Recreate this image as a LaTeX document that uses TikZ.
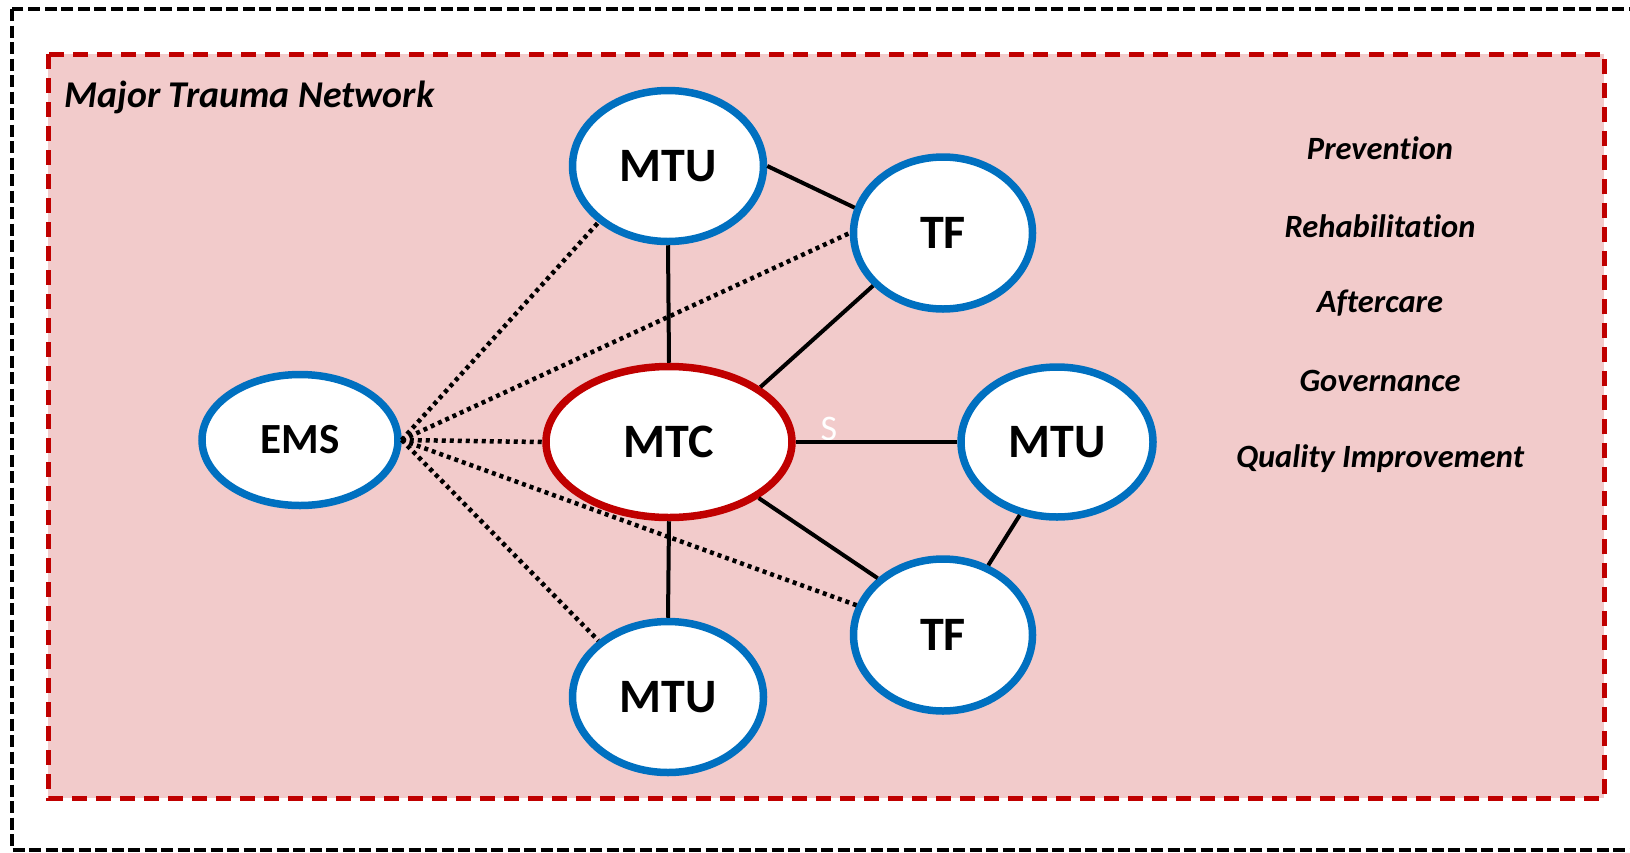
\documentclass[tikz,border=0pt]{standalone}
\usepackage{fontspec}
\setmainfont{Carlito}[Ligatures=NoCommon]
\usetikzlibrary{shapes.geometric}

\definecolor{netred}{RGB}{192,0,0}
\definecolor{netblue}{RGB}{0,112,192}
\definecolor{netpink}{RGB}{242,203,203}

\tikzset{
  unit/.style={ellipse, draw=netblue, fill=white, line width=7.5pt, inner sep=0pt,
               font=\fontsize{48}{56}\selectfont\bfseries},
  centre/.style={unit, draw=netred},
  link/.style={line width=4pt, black},
  feed/.style={line width=4.5pt, black, dash pattern=on 4pt off 4pt},
  topic/.style={font=\fontsize{32.5}{38}\selectfont\bfseries\itshape, anchor=center},
}

\begin{document}
\begin{tikzpicture}[x=1pt, y=-1pt]
  \useasboundingbox (0,0) rectangle (1630,852);
  \clip (0,0) rectangle (1630,852);
  \fill[white] (0,0) rectangle (1630,852);

  % outer frame
  \draw[black, line width=4pt, dash pattern=on 12pt off 4.5pt] (12,9) rectangle (1660,850);

  % network area
  \draw[netred, fill=netpink, line width=5pt, dash pattern=on 15pt off 9pt] (48,54) rectangle (1604,798);
  \node[anchor=base west, font=\fontsize{37.8}{44}\selectfont\bfseries\itshape] (title) at (61,107) {Major Trauma Network};

  % units
  \node[unit, minimum width=191pt, minimum height=151pt] (mtuT) at (668,166) {MTU};
  \node[unit, minimum width=179pt, minimum height=152pt] (tfT)  at (943,233) {TF};
  \node[unit, minimum width=196pt, minimum height=131pt, font=\fontsize{43}{50}\selectfont\bfseries] (ems) at (300,440) {EMS};
  \node[centre, minimum width=246pt, minimum height=151pt] (mtc) at (669,442) {MTC};
  \node[unit, minimum width=192pt, minimum height=150pt] (mtuR) at (1057,442) {MTU};
  \node[unit, minimum width=179pt, minimum height=152pt] (tfB)  at (943,635) {TF};
  \node[unit, minimum width=191pt, minimum height=151pt] (mtuB) at (668,697) {MTU};

  \node[white, font=\fontsize{36}{42}\selectfont] (s) at (829,429) {S};

  % solid links
  \draw[link] (mtuT.south) -- (mtc.north);
  \draw[link] (mtuT.east) -- (tfT.164);
  \draw[link] (tfT.217) -- (mtc.31);
  \draw[link] (mtc.east) -- (mtuR.west);
  \draw[link] (mtc.328) -- (tfB.139);
  \draw[link] (mtuR.243) -- (tfB.57);
  \draw[link] (mtc.south) -- (mtuB.north);

  % dotted links from EMS
  \draw[feed] (ems.east) -- (mtuT.219);
  \draw[feed] (ems.east) -- (tfT.west);
  \draw[feed] (ems.east) -- (mtc.west);
  \draw[feed] (ems.east) -- (tfB.161);
  \draw[feed] (ems.east) -- (mtuB.141);

  % topics
  \node[topic] (t1) at (1380,148) {Prevention};
  \node[topic] (t2) at (1380,226) {Rehabilitation};
  \node[topic] (t3) at (1380,303) {Aftercare};
  \node[topic] (t4) at (1380,381) {Governance};
  \node[topic] (t5) at (1380,459) {Quality Improvement};
\end{tikzpicture}
\end{document}
